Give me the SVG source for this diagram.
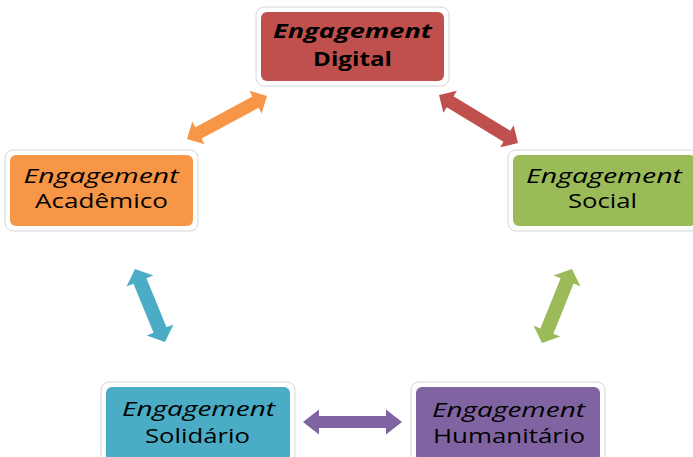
<svg xmlns="http://www.w3.org/2000/svg" width="693" height="457" viewBox="0 0 693 457">
<style>
.frame{fill:#ffffff;stroke:#d6d6d6;stroke-width:1}
.t{font-family:"Open Sans","Noto Sans","Liberation Sans",sans-serif;font-size:20px;fill:#000000;text-anchor:middle}
.i{font-style:italic}
.b{font-weight:bold}
</style>
<rect width="693" height="457" fill="#ffffff"/>
<g id="connectors">
<polygon fill="#F79646" transform="translate(227,117.5) rotate(-28.3)" points="-45.4,0 -32.4,-13 -32.4,-6.5 32.4,-6.5 32.4,-13 45.4,0 32.4,13 32.4,6.5 -32.4,6.5 -32.4,13"/>
<polygon fill="#C0504D" transform="translate(478.5,119) rotate(31.3)" points="-46.2,0 -33.2,-13 -33.2,-6.5 33.2,-6.5 33.2,-13 46.2,0 33.2,13 33.2,6.5 -33.2,6.5 -33.2,13"/>
<polygon fill="#4BACC6" transform="translate(150,305.5) rotate(67.7)" points="-39.5,0 -26.5,-14.5 -26.5,-7 26.5,-7 26.5,-14.5 39.5,0 26.5,14.5 26.5,7 -26.5,7 -26.5,14.5"/>
<polygon fill="#9BBB59" transform="translate(557,306) rotate(112)" points="-40,0 -27,-14.5 -27,-7 27,-7 27,-14.5 40,0 27,14.5 27,7 -27,7 -27,14.5"/>
<polygon fill="#8064A2" transform="translate(352.5,422)" points="-49.5,0 -33.5,-12.5 -33.5,-6 33.5,-6 33.5,-12.5 49.5,0 33.5,12.5 33.5,6 -33.5,6 -33.5,12.5"/>
</g>
<g id="digital">
<rect class="frame" x="256" y="7" width="193" height="79" rx="8"/>
<rect x="261" y="12" width="183" height="69" rx="6" fill="#C0504D"/>
<text class="t i b" x="352.5" y="37.5" textLength="159" lengthAdjust="spacingAndGlyphs">Engagement</text>
<text class="t b" x="352.5" y="65.5" textLength="79" lengthAdjust="spacingAndGlyphs">Digital</text>
</g>
<g id="academico">
<rect class="frame" x="5" y="150" width="193" height="81" rx="8"/>
<rect x="10" y="155" width="183" height="71" rx="6" fill="#F79646"/>
<text class="t i" x="101" y="183" textLength="155" lengthAdjust="spacingAndGlyphs">Engagement</text>
<text class="t" x="101.5" y="207.5" textLength="133" lengthAdjust="spacingAndGlyphs">Acadêmico</text>
</g>
<g id="social">
<rect class="frame" x="508" y="150" width="193" height="81" rx="8"/>
<rect x="513" y="155" width="183" height="71" rx="6" fill="#9BBB59"/>
<text class="t i" x="604" y="183" textLength="156" lengthAdjust="spacingAndGlyphs">Engagement</text>
<text class="t" x="602.5" y="207.5" textLength="69" lengthAdjust="spacingAndGlyphs">Social</text>
</g>
<g id="solidario">
<rect class="frame" x="101" y="382" width="194" height="84" rx="8"/>
<rect x="106" y="387" width="184" height="74" rx="6" fill="#4BACC6"/>
<text class="t i" x="198.5" y="416" textLength="153" lengthAdjust="spacingAndGlyphs">Engagement</text>
<text class="t" x="197.5" y="442.5" textLength="105" lengthAdjust="spacingAndGlyphs">Solidário</text>
</g>
<g id="humanitario">
<rect class="frame" x="411" y="382" width="194" height="84" rx="8"/>
<rect x="416" y="387" width="184" height="74" rx="6" fill="#8064A2"/>
<text class="t i" x="508.5" y="416.5" textLength="153" lengthAdjust="spacingAndGlyphs">Engagement</text>
<text class="t" x="509" y="442.5" textLength="152" lengthAdjust="spacingAndGlyphs">Humanitário</text>
</g>
</svg>
